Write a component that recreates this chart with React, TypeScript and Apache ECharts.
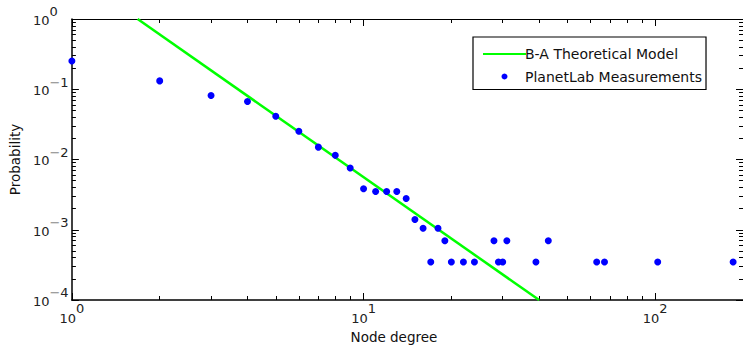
import React, { useEffect, useRef } from "react";
import * as echarts from "echarts";

const degree = [1, 2, 3, 4, 5, 6, 7, 8, 9, 10, 11, 12, 13, 14, 15, 16, 17, 18, 19, 20, 22, 24, 28, 29, 30, 31, 39, 43, 63, 67, 102, 185];
const probability = [
  0.252, 0.1315, 0.0816, 0.067, 0.0412, 0.0253, 0.015, 0.01146, 0.00759, 0.00383,
  0.00351, 0.00351, 0.00351, 0.00279, 0.0014, 0.00105, 0.000348, 0.00105, 0.000698, 0.000348,
  0.000348, 0.000348, 0.000698, 0.000348, 0.000348, 0.000698, 0.000348, 0.000698, 0.000348, 0.000348,
  0.000348, 0.000348,
];
const modelDegree = [1.68, 40];
const modelProbability = [1, 0.0001];

const xMajorTicks = [1, 10, 100];
const xMinorTicks = [2, 3, 4, 5, 6, 7, 8, 9, 20, 30, 40, 50, 60, 70, 80, 90, 200];
const yMajorTicks = [0.0001, 0.001, 0.01, 0.1, 1];
const yMinorTicks = [
  0.0002, 0.0003, 0.0004, 0.0005, 0.0006, 0.0007, 0.0008, 0.0009,
  0.002, 0.003, 0.004, 0.005, 0.006, 0.007, 0.008, 0.009,
  0.02, 0.03, 0.04, 0.05, 0.06, 0.07, 0.08, 0.09,
  0.2, 0.3, 0.4, 0.5, 0.6, 0.7, 0.8, 0.9,
];

const FONT = "DejaVu Sans";

function powLabel(v: number) {
  const e = Math.round(Math.log10(v));
  if (e < 0) return `{b|10}{m|\u2212}{s|${-e}}`;
  return `{b|10}{s|${e}}`;
}

function richFor(raise: number) {
  return {
    b: { fontFamily: FONT, fontSize: 13, color: "#222", verticalAlign: "bottom" },
    s: { fontFamily: FONT, fontSize: 13, color: "#222", verticalAlign: "bottom", padding: [0, 0, raise, 0] },
    m: { fontFamily: FONT, fontSize: 13, color: "#888", verticalAlign: "bottom", padding: [0, 0, raise, 0] },
  };
}

export default function App() {
  const ref = useRef<HTMLDivElement>(null);
  useEffect(() => {
    if (!ref.current) return;
    const chart = echarts.init(ref.current, undefined, { renderer: "svg" });
    const baseX = { type: "log", logBase: 10, min: 1, max: 200, gridIndex: 0, splitLine: { show: false } };
    const baseY = { type: "log", logBase: 10, min: 0.0001, max: 1, gridIndex: 0, splitLine: { show: false } };
    const tickStyle = { color: "#000", width: 1 };
    chart.setOption({
      animation: false,
      grid: { left: 71, top: 19, width: 675, height: 283, containLabel: false },
      xAxis: [
        {
          ...baseX,
          position: "bottom",
          axisLine: { show: true, onZero: false, lineStyle: { color: "#000", width: 1.5 } },
          axisTick: { show: true, inside: true, length: 7, customValues: xMajorTicks, lineStyle: tickStyle },
          axisLabel: { show: true, customValues: xMajorTicks, formatter: powLabel, rich: richFor(10), margin: 2 },
          name: "Node degree",
          nameLocation: "middle",
          nameGap: 30,
          nameTextStyle: { fontFamily: FONT, fontSize: 13.5, color: "#111", padding: [0, 27, 0, 0] },
        },
        {
          ...baseX,
          position: "bottom",
          axisLine: { show: false, onZero: false },
          axisTick: { show: true, inside: true, length: 4, customValues: xMinorTicks, lineStyle: tickStyle },
          axisLabel: { show: false },
        },
        {
          ...baseX,
          position: "top",
          axisLine: { show: true, onZero: false, lineStyle: { color: "#000", width: 1 } },
          axisTick: { show: true, inside: true, length: 7, customValues: xMajorTicks, lineStyle: tickStyle },
          axisLabel: { show: false },
        },
        {
          ...baseX,
          position: "top",
          axisLine: { show: false, onZero: false },
          axisTick: { show: true, inside: true, length: 4, customValues: xMinorTicks, lineStyle: tickStyle },
          axisLabel: { show: false },
        },
      ],
      yAxis: [
        {
          ...baseY,
          position: "left",
          axisLine: { show: true, onZero: false, lineStyle: { color: "#000", width: 1.5 } },
          axisTick: { show: true, inside: true, length: 7, customValues: yMajorTicks, lineStyle: tickStyle },
          axisLabel: {
            show: true,
            customValues: yMajorTicks,
            formatter: powLabel,
            rich: richFor(8.5),
            align: "left",
            margin: 39,
            padding: [0, 0, 6, 0],
          },
          name: "Probability",
          nameLocation: "middle",
          nameGap: 44,
          nameRotate: 90,
          nameTextStyle: { fontFamily: FONT, fontSize: 13.5, color: "#111" },
        },
        {
          ...baseY,
          position: "left",
          axisLine: { show: false, onZero: false },
          axisTick: { show: true, inside: true, length: 4, customValues: yMinorTicks, lineStyle: tickStyle },
          axisLabel: { show: false },
        },
        {
          ...baseY,
          position: "right",
          axisLine: { show: true, onZero: false, lineStyle: { color: "#000", width: 1 } },
          axisTick: { show: true, inside: true, length: 7, customValues: yMajorTicks, lineStyle: tickStyle },
          axisLabel: { show: false },
        },
        {
          ...baseY,
          position: "right",
          axisLine: { show: false, onZero: false },
          axisTick: { show: true, inside: true, length: 4, customValues: yMinorTicks, lineStyle: tickStyle },
          axisLabel: { show: false },
        },
      ],
      legend: {
        left: 473,
        top: 37,
        orient: "vertical",
        itemWidth: 43,
        itemHeight: 6,
        itemGap: 8.5,
        padding: [10, 4, 6, 9],
        borderColor: "#000",
        borderWidth: 1.2,
        borderRadius: 0,
        backgroundColor: "#fff",
        textStyle: { fontFamily: FONT, fontSize: 14, color: "#111", padding: [0, 0, 0, -6] },
        data: [
          { name: "B-A Theoretical Model", itemStyle: { opacity: 0 } },
          { name: "PlanetLab Measurements" },
        ],
      },
      series: [
        {
          type: "line",
          name: "B-A Theoretical Model",
          xAxisIndex: 0,
          yAxisIndex: 0,
          data: modelDegree.map((d, i) => [d, modelProbability[i]]),
          symbol: "none",
          showSymbol: false,
          lineStyle: { color: "#00ff00", width: 2.5 },
          itemStyle: { color: "#00ff00" },
          z: 2,
        },
        {
          type: "scatter",
          name: "PlanetLab Measurements",
          xAxisIndex: 0,
          yAxisIndex: 0,
          data: degree.map((d, i) => [d, probability[i]]),
          symbol: "circle",
          symbolSize: 7,
          itemStyle: { color: "#0000ff", opacity: 1 },
          clip: false,
          z: 3,
        },
      ],
    });
    return () => chart.dispose();
  }, []);
  return (
    <div
      ref={ref}
      style={{ position: "absolute", left: 0, top: 0, width: 743, height: 349, background: "#fff" }}
    />
  );
}
